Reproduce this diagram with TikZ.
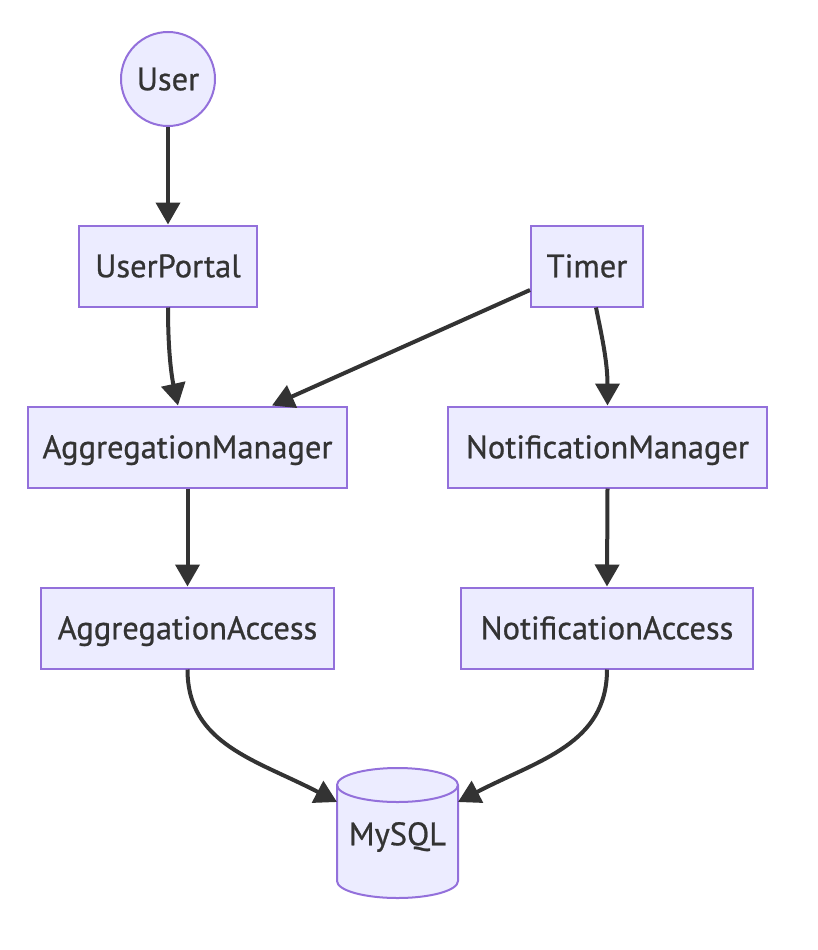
\documentclass[tikz,border=0pt]{standalone}
\usepackage{fontspec}
\setmainfont{PT Sans}
\newfontfamily\nodefont{PT Sans}[RawFeature={embolden=0.7}]
\usetikzlibrary{arrows.meta,calc}
\definecolor{nodefill}{HTML}{ECECFF}
\definecolor{nodeline}{HTML}{9370DB}
\definecolor{edgecol}{HTML}{333333}
\begin{document}
\begin{tikzpicture}[x=1pt,y=1pt,
  every node/.style={font=\nodefont\fontsize{32.5}{38}\selectfont, text=edgecol, text height=22.5pt, text depth=0pt},
  box/.style={draw=nodeline, fill=nodefill, line width=2pt, minimum height=81pt, inner sep=0pt},
  edge/.style={draw=edgecol, line width=4pt, -{Triangle[length=22pt,width=24pt]}}]
\useasboundingbox (0,0) rectangle (818,-950);
\node[circle, draw=nodeline, fill=nodefill, line width=2pt, minimum size=94pt, inner sep=0pt] (user) at (168,-79) {User};
\node[box, minimum width=178pt] (up) at (168,-266) {UserPortal};
\node[box, minimum width=112pt] (timer) at (587,-266) {Timer};
\node[box, minimum width=319pt] (am) at (187.5,-447) {AggregationManager};
\node[box, minimum width=319pt] (nm) at (607.5,-447) {NotificationManager};
\node[box, minimum width=293pt] (aa) at (187.5,-628) {AggregationAccess};
\node[box, minimum width=292pt] (na) at (607,-628) {NotificationAccess};
% cylinder
\fill[nodefill] (337,-785) -- (337,-881) arc[start angle=180,end angle=360,x radius=60.5pt,y radius=17pt] -- (458,-785) arc[start angle=0,end angle=180,x radius=60.5pt,y radius=17pt] -- cycle;
\draw[nodeline, line width=2pt] (337,-785) -- (337,-881) arc[start angle=180,end angle=360,x radius=60.5pt,y radius=17pt] -- (458,-785) arc[start angle=0,end angle=180,x radius=60.5pt,y radius=17pt] -- cycle;
\draw[nodeline, line width=2pt] (337,-785) arc[start angle=180,end angle=360,x radius=60.5pt,y radius=17pt];
\node (db) at (397.5,-834) {MySQL};
\coordinate (dbl) at ($(db)+(-60.5,32)$);
\coordinate (dbr) at ($(db)+(60.5,32)$);
% edges
\draw[edge] (user.south) -- (up.north);
\draw[edge] (up.south) .. controls ($(up.south)+(0,-50)$) and ($(am.north)+(-15,25)$) .. ($(am.north)+(-9.5,0)$);
\draw[edge] ($(timer.west)+(0,-24)$) -- ($(am.north)+(84.5,0)$);
\draw[edge] ($(timer.south)+(9,0)$) .. controls ($(timer.south)+(14,-25)$) and ($(nm.north)+(0,45)$) .. (nm.north);
\draw[edge] (am.south) -- (aa.north);
\draw[edge] (nm.south) -- (na.north);
\draw[edge] (aa.south) .. controls ($(aa.south)+(0,-75)$) and ($(dbl)+(-80,42)$) .. (dbl);
\draw[edge] (na.south) .. controls ($(na.south)+(0,-75)$) and ($(dbr)+(80,42)$) .. (dbr);
\end{tikzpicture}
\end{document}
